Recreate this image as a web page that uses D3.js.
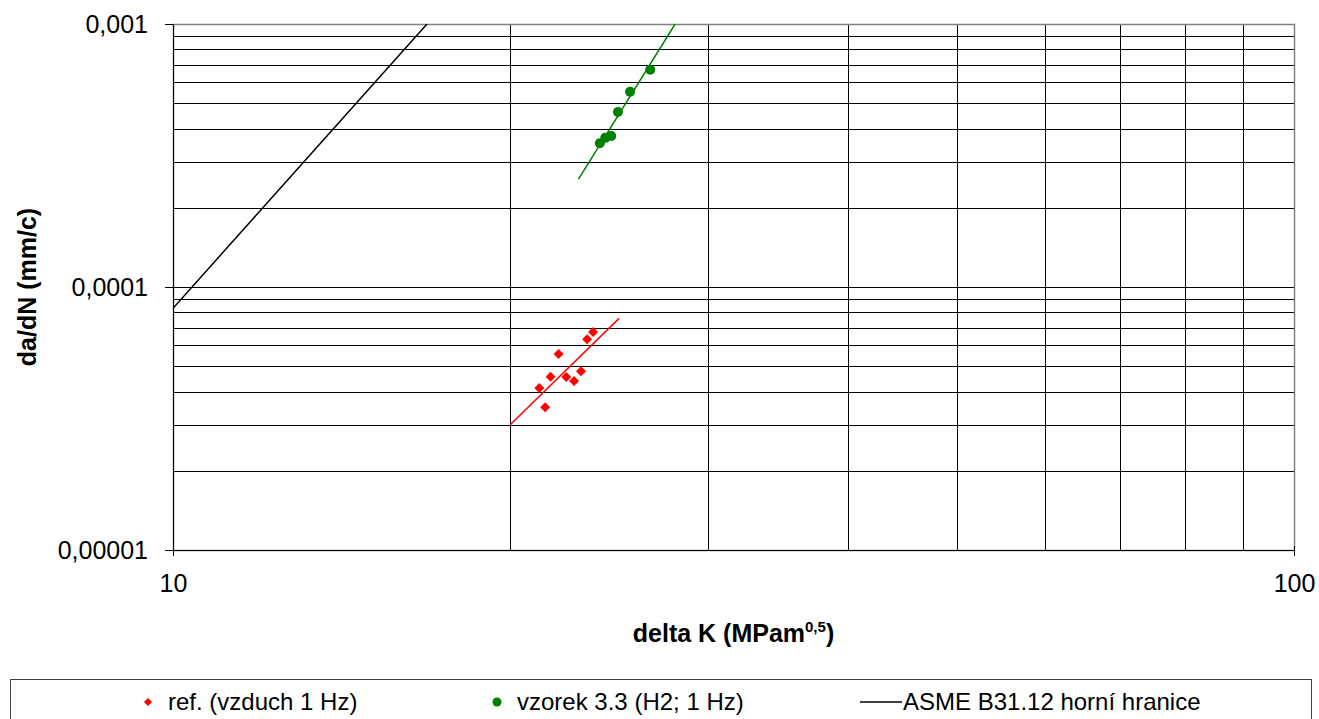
<!DOCTYPE html>
<html>
<head>
<meta charset="utf-8">
<script src="https://cdn.jsdelivr.net/npm/d3@7"></script>
<style>
  body { margin: 0; background: #fff; }
  text { font-family: "Liberation Sans", Arial, sans-serif; fill: #000; }
</style>
</head>
<body>
<div id="chart"></div>
<script>
// ref. (vzduch 1 Hz)
const refK = [21.22, 21.48, 21.72, 22.08, 22.43, 22.79, 23.12, 23.41, 23.70];
const refRate = [4.13e-5, 3.49e-5, 4.56e-5, 5.56e-5, 4.55e-5, 4.39e-5, 4.78e-5, 6.33e-5, 6.74e-5];
const refTrend = [[20.0, 3.0e-5], [25.0, 7.6e-5]];

// vzorek 3.3 (H2; 1 Hz)
const h2K = [24.03, 24.30, 24.60, 24.94, 25.57, 26.65];
const h2Rate = [3.52e-4, 3.69e-4, 3.75e-4, 4.63e-4, 5.53e-4, 6.70e-4];
const h2Trend = [[23.0, 2.57e-4], [28.05, 1.0e-3]];

// ASME B31.12 horní hranice
const asme = [[10, 8.3e-5], [16.85, 1.0e-3]];

const xTicks = [10, 100];
const yTicks = [1e-5, 1e-4, 1e-3];
const yTickLabels = ["0,00001", "0,0001", "0,001"];
const legendLabels = ["ref. (vzduch 1 Hz)", "vzorek 3.3 (H2; 1 Hz)", "ASME B31.12 horní hranice"];

const width = 1319;
const height = 719;
const margin = { top: 24, right: 25, bottom: 169, left: 173 };

const svg = d3.select("#chart")
  .append("svg")
  .attr("width", width)
  .attr("height", height);

const x = d3.scaleLog()
  .domain([10, 100])
  .range([margin.left, width - margin.right]);

const y = d3.scaleLog()
  .domain([1e-5, 1e-3])
  .range([height - margin.bottom, margin.top]);

const [x0, x1] = x.range();
const [y1, y0] = y.range();

// minor gridlines on both axes
const xGrid = d3.range(2, 10).map(d => d * 10);
const yGrid = [];
[1e-5, 1e-4].forEach(p => d3.range(1, 10).forEach(m => yGrid.push(m * p)));
yGrid.push(1e-3);

svg.append("g")
  .selectAll("line")
  .data(yGrid)
  .enter()
  .append("line")
  .attr("x1", x0)
  .attr("x2", x1)
  .attr("y1", d => Math.round(y(d)) + 0.5)
  .attr("y2", d => Math.round(y(d)) + 0.5)
  .attr("stroke", "#000")
  .attr("stroke-width", 1);

svg.append("g")
  .selectAll("line")
  .data(xGrid)
  .enter()
  .append("line")
  .attr("x1", d => Math.round(x(d)) + 0.5)
  .attr("x2", d => Math.round(x(d)) + 0.5)
  .attr("y1", y0)
  .attr("y2", y1)
  .attr("stroke", "#000")
  .attr("stroke-width", 1);

// plot border
svg.append("rect")
  .attr("x", x0 + 0.5)
  .attr("y", y0 + 0.5)
  .attr("width", x1 - x0)
  .attr("height", y1 - y0)
  .attr("fill", "none")
  .attr("stroke", "#808080")
  .attr("stroke-width", 1.5);

// axes (major ticks only)
const xAxis = d3.axisBottom(x)
  .tickValues(xTicks)
  .tickSize(6)
  .tickFormat(d3.format("d"));

svg.append("g")
  .attr("transform", `translate(0,${y1})`)
  .call(xAxis)
  .call(g => g.select(".domain").attr("stroke", "#000"))
  .call(g => g.selectAll(".tick line").attr("stroke", "#000").attr("y1", -4).attr("y2", 5))
  .call(g => g.selectAll(".tick text")
    .attr("y", 24)
    .attr("dy", "0.71em")
    .attr("font-size", 25)
    .attr("font-family", "Liberation Sans, Arial, sans-serif"));

const yAxis = d3.axisLeft(y)
  .tickValues(yTicks)
  .tickSize(6)
  .tickFormat((d, i) => yTickLabels[i]);

svg.append("g")
  .attr("transform", `translate(${x0},0)`)
  .call(yAxis)
  .call(g => g.select(".domain").attr("stroke", "#000"))
  .call(g => g.selectAll(".tick line").attr("stroke", "#000").attr("x1", -8).attr("x2", 0))
  .call(g => g.selectAll(".tick text")
    .attr("x", -25)
    .attr("font-size", 25)
    .attr("font-family", "Liberation Sans, Arial, sans-serif"));

// clip series to plot area
svg.append("clipPath")
  .attr("id", "plot-clip")
  .append("rect")
  .attr("x", x0)
  .attr("y", y0)
  .attr("width", x1 - x0)
  .attr("height", y1 - y0);

const line = d3.line()
  .x(d => x(d[0]))
  .y(d => y(d[1]));

const series = svg.append("g").attr("clip-path", "url(#plot-clip)");

series.append("path")
  .datum(asme)
  .attr("d", line)
  .attr("fill", "none")
  .attr("stroke", "#000")
  .attr("stroke-width", 1.5);

series.append("path")
  .datum(refTrend)
  .attr("d", line)
  .attr("fill", "none")
  .attr("stroke", "#ff0000")
  .attr("stroke-width", 1.5);

series.append("path")
  .datum(h2Trend)
  .attr("d", line)
  .attr("fill", "none")
  .attr("stroke", "#008000")
  .attr("stroke-width", 1.5);

const diamond = d3.symbol().type(d3.symbolSquare).size(50);

series.selectAll("path.ref")
  .data(refK)
  .enter()
  .append("path")
  .attr("class", "ref")
  .attr("d", diamond)
  .attr("transform", (d, i) => `translate(${x(d)},${y(refRate[i])}) rotate(45)`)
  .attr("fill", "#ff0000");

series.selectAll("circle.h2")
  .data(h2K)
  .enter()
  .append("circle")
  .attr("class", "h2")
  .attr("cx", d => x(d))
  .attr("cy", (d, i) => y(h2Rate[i]))
  .attr("r", 5)
  .attr("fill", "#008000");

// axis titles
svg.append("text")
  .attr("x", (x0 + x1) / 2)
  .attr("y", 642)
  .attr("text-anchor", "middle")
  .attr("font-size", 25)
  .attr("font-weight", "bold")
  .html('delta K (MPam<tspan font-size="15" dy="-10">0,5</tspan><tspan dy="10">)</tspan>');

svg.append("text")
  .attr("transform", `translate(36,${(y0 + y1) / 2}) rotate(-90)`)
  .attr("text-anchor", "middle")
  .attr("font-size", 25)
  .attr("font-weight", "bold")
  .text("da/dN (mm/c)");

// legend
svg.append("rect")
  .attr("x", 10.5)
  .attr("y", 679.5)
  .attr("width", 1301)
  .attr("height", 60)
  .attr("fill", "#fff")
  .attr("stroke", "#404040")
  .attr("stroke-width", 1);

const legY = 702;
const legend = svg.append("g");

legend.append("path")
  .attr("d", d3.symbol().type(d3.symbolSquare).size(34))
  .attr("transform", `translate(148,${legY}) rotate(45)`)
  .attr("fill", "#ff0000");

legend.append("circle")
  .attr("cx", 497)
  .attr("cy", legY)
  .attr("r", 4.5)
  .attr("fill", "#008000");

legend.append("line")
  .attr("x1", 860)
  .attr("x2", 902)
  .attr("y1", legY)
  .attr("y2", legY)
  .attr("stroke", "#000")
  .attr("stroke-width", 1.5);

legend.selectAll("text")
  .data(legendLabels)
  .enter()
  .append("text")
  .attr("x", (d, i) => [168, 517, 903][i])
  .attr("y", legY)
  .attr("dy", "0.35em")
  .attr("font-size", 24)
  .text(d => d);
</script>
</body>
</html>
